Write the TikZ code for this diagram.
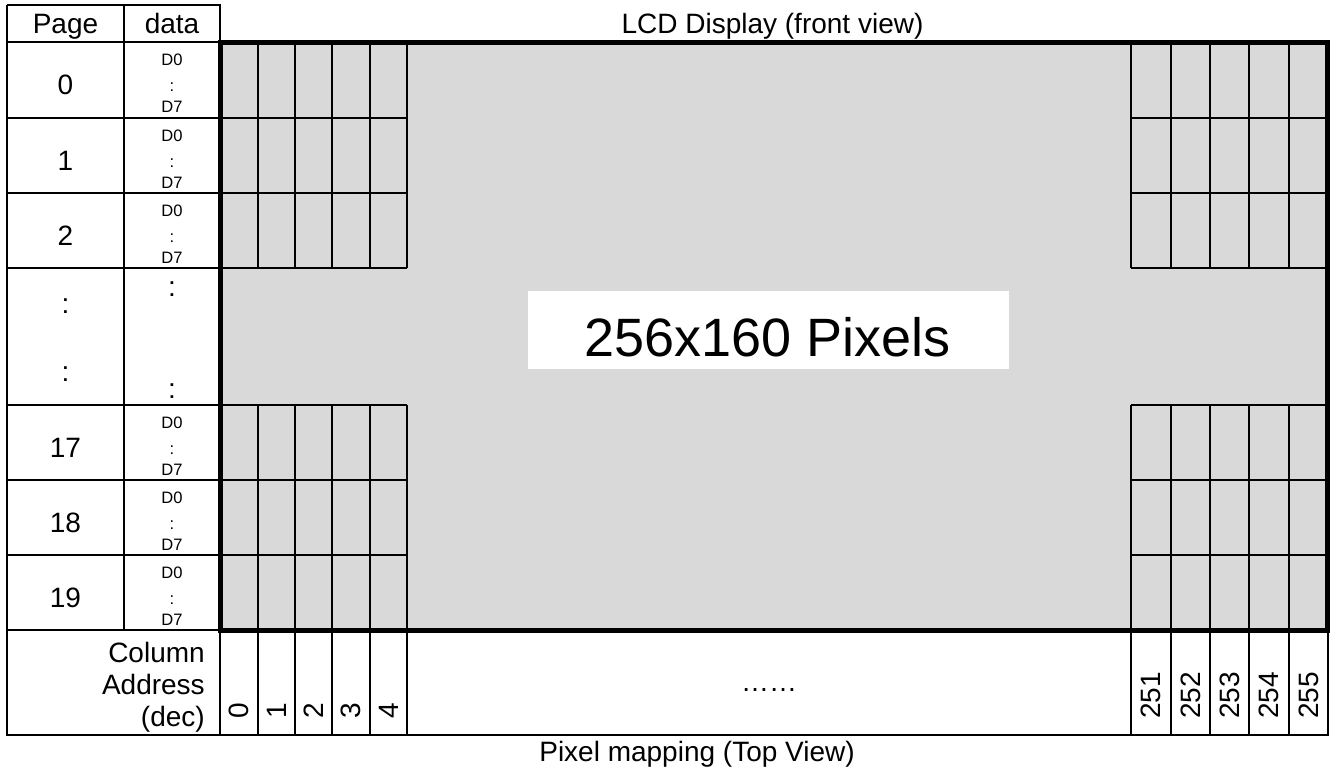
\documentclass[tikz,border=0pt]{standalone}
\usepackage{fontspec}
\setmainfont{Liberation Sans}
\definecolor{lcdgray}{HTML}{D9D9D9}
\begin{document}
\begin{tikzpicture}[x=0.75pt,y=-0.75pt,
  tline/.style={line width=1.5pt},
  hair/.style={line width=0.8pt},
  lcdborder/.style={line width=3.4pt},
  txt/.style={font=\fontsize{21}{25}\selectfont, inner sep=0pt},
  small/.style={font=\fontsize{12.4}{14}\selectfont, inner sep=0pt},
  big/.style={font=\fontsize{40.5}{48}\selectfont, inner sep=0pt},
  rot/.style={txt, rotate=90, anchor=west}]
\useasboundingbox (0,0) rectangle (1330,771);
% LCD area
\fill[lcdgray] (220,42) rectangle (1328,630);
\fill[white] (528,291) rectangle (1009,369);
% left table
\draw[tline] (7,5) -- (220,5) -- (220,42);
\draw[tline] (7,5) -- (7,735) -- (1328,735) -- (1328,630);
\draw[tline] (124,5) -- (124,630);
\foreach \y in {42,118,193,268,405,480,555,630} \draw[tline] (7,\y) -- (220,\y);
% pixel cells
\foreach \x in {258,295,332,370,407,1131,1171,1210,1249,1289} {
  \draw[tline] (\x,42) -- (\x,268);
  \draw[tline] (\x,405) -- (\x,630);
  \draw[hair] (\x,630) -- (\x,735);
}
\draw[hair] (220,630) -- (220,735);
\foreach \y in {118,193,268,405,480,555} {
  \draw[tline] (220,\y) -- (407,\y);
  \draw[tline] (1131,\y) -- (1328,\y);
}
\draw[lcdborder] (220.5,42.5) rectangle (1327.5,630.5);
% header texts
\node[txt, anchor=base] (hpage) at (65.5,33) {Page};
\node[txt, anchor=base] (hdata) at (172,33) {data};
\node[txt, anchor=base] (title) at (772.5,33) {LCD Display (front view)};
% page rows
\foreach \t/\n in {42/0,118/1,193/2,405/17,480/18,555/19} {
  \node[txt, anchor=base] (page\n) at (65.5,\t+52) {\n};
  \node[small, anchor=base] (dz\n) at (172,\t+23) {D0};
  \node[small, anchor=base] (dc\n) at (172,\t+49) {:};
  \node[small, anchor=base] (ds\n) at (172,\t+70) {D7};
}
\node[txt, anchor=base] (pdotA) at (65.5,313) {:};
\node[txt, anchor=base] (pdotB) at (65.5,381) {:};
\node[txt, anchor=base] (ddotA) at (172,296) {:};
\node[txt, anchor=base] (ddotB) at (172,398) {:};
% centre label
\node[big, anchor=base] (pix) at (767.5,356) {256x160 Pixels};
% column address
\node[txt, anchor=base east] (colA) at (205,662) {Column};
\node[txt, anchor=base east] (colB) at (205,694) {Address};
\node[txt, anchor=base east] (colC) at (205,726) {(dec)};
\foreach \x/\n in {239/0,276.5/1,313.5/2,351/3,388.5/4,1151/251,1190.5/252,1229.5/253,1269/254,1308.5/255}
  \node[rot] (col\n) at (\x,719) {\n};
\node[txt, anchor=base] (ell) at (769,691) {……};
\node[txt, anchor=base east] (caption) at (855,761) {Pixel mapping (Top View)};
\end{tikzpicture}
\end{document}
